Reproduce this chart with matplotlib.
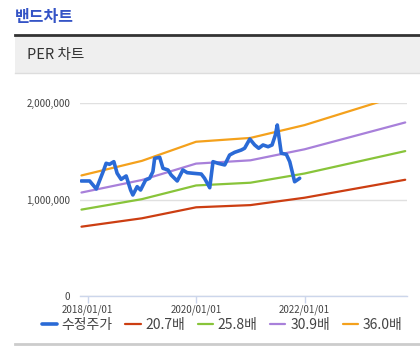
import matplotlib
matplotlib.use("Agg")
import matplotlib.pyplot as plt
from matplotlib.lines import Line2D
from matplotlib.patches import Rectangle
import pandas as pd

plt.rcParams['font.family'] = ['Noto Sans CJK KR', 'DejaVu Sans']

title = "밴드차트"
subtitle = "PER 차트"

price_dates = ["2017-11-18", "2018-01-14", "2018-02-28", "2018-04-19", "2018-05-05", "2018-05-28",
               "2018-06-26", "2018-07-18", "2018-08-14", "2018-09-17", "2018-10-17", "2018-11-01",
               "2018-11-30", "2018-12-23", "2019-01-26", "2019-02-22", "2019-03-16", "2019-03-28",
               "2019-05-01", "2019-05-23", "2019-06-26", "2019-07-17", "2019-08-27", "2019-10-04",
               "2019-11-02", "2019-12-10", "2020-02-05", "2020-02-27", "2020-04-02", "2020-04-24",
               "2020-05-28", "2020-07-12", "2020-08-14", "2020-09-17", "2020-11-01", "2020-11-23",
               "2020-12-28", "2021-01-30", "2021-02-26", "2021-03-27", "2021-04-30", "2021-05-27",
               "2021-06-18", "2021-07-01", "2021-07-28", "2021-08-31", "2021-09-23", "2021-10-26",
               "2021-11-29"]
price_values = [1192000, 1192000, 1109000, 1306000, 1375000, 1365000,
                1392000, 1272000, 1209000, 1244000, 1098000, 1047000,
                1133000, 1098000, 1202000, 1220000, 1288000, 1427000,
                1437000, 1323000, 1306000, 1254000, 1192000, 1306000,
                1278000, 1272000, 1264000, 1220000, 1122000, 1392000,
                1375000, 1358000, 1461000, 1489000, 1513000, 1531000,
                1627000, 1565000, 1531000, 1565000, 1547000, 1565000,
                1668000, 1772000, 1479000, 1468000, 1392000, 1184000,
                1220000]

band_dates = ["2017-11-20", "2019-01-01", "2020-01-01", "2021-01-01", "2022-01-01", "2023-11-10"]
band_207 = [718300, 805200, 919100, 941900, 1018400, 1204700]
band_258 = [895300, 1003600, 1145500, 1173900, 1269400, 1501600]
band_309 = [1072200, 1202000, 1372000, 1406000, 1520300, 1798400]
band_360 = [1249200, 1400400, 1598400, 1638000, 1771200, 2095200]

series_labels = ["수정주가", "20.7배", "25.8배", "30.9배", "36.0배"]
colors = ["#2a6ad6", "#cc3e12", "#88c43a", "#a880da", "#f4a11c"]

y_ticks = [0, 1000000, 2000000]
y_labels = ["0", "1,000,000", "2,000,000"]
x_ticks = ["2018-01-01", "2020-01-01", "2022-01-01"]
x_labels = ["2018/01/01", "2020/01/01", "2022/01/01"]

W, H = 420, 353
fig = plt.figure(figsize=(W / 100, H / 100), dpi=100)
fig.patch.set_facecolor("white")

# header
fig.text(15 / W, 1 - 17 / H, title, color="#3554c6", fontsize=11.5, fontweight="bold",
         va="center", ha="left")
fig.add_artist(Rectangle((15 / W, 1 - 73 / H), 1, 38 / H, transform=fig.transFigure,
                         facecolor="#efefef", edgecolor="none"))
fig.add_artist(Line2D([15 / W, 1], [1 - 34.5 / H] * 2, transform=fig.transFigure,
                      color="#333333", linewidth=2))
fig.add_artist(Line2D([15 / W, 1], [1 - 72.5 / H] * 2, transform=fig.transFigure,
                      color="#dddddd", linewidth=1))
fig.text(27 / W, 1 - 55 / H, subtitle, color="#333333", fontsize=10.5, va="center", ha="left")
fig.add_artist(Line2D([15 / W, 1], [1 - 343.5 / H] * 2, transform=fig.transFigure,
                      color="#cccccc", linewidth=2))

left, right, top, bottom = 80, 406.7, 103, 296
ax = fig.add_axes([left / W, 1 - bottom / H, (right - left) / W, (bottom - top) / H])
ax.set_facecolor("none")

pd_price = pd.to_datetime(price_dates)
pd_band = pd.to_datetime(band_dates)
bands = [band_207, band_258, band_309, band_360]
handles = []
for i, b in enumerate(bands):
    h, = ax.plot(pd_band, b, color=colors[i + 1], linewidth=1.6, solid_capstyle="round", zorder=2)
    handles.append(h)
hp, = ax.plot(pd_price, price_values, color=colors[0], linewidth=2.6, solid_joinstyle="round",
              solid_capstyle="round", zorder=3)
handles = [hp] + handles

ax.set_ylim(0, 2000000)
ax.set_xlim(pd.Timestamp("2017-11-10"), pd.Timestamp("2023-11-20"))
ax.set_yticks(y_ticks)
ax.set_yticklabels(y_labels)
ax.set_xticks(pd.to_datetime(x_ticks))
ax.set_xticklabels(x_labels)
for s in ["left", "right", "top"]:
    ax.spines[s].set_visible(False)
ax.spines["bottom"].set_color("#ccd6eb")
ax.spines["bottom"].set_linewidth(1)
ax.grid(axis="y", color="#e0e0e0", linewidth=1)
ax.set_axisbelow(True)
ax.tick_params(axis="y", length=0, pad=7, labelsize=7, labelcolor="#444444")
ax.tick_params(axis="x", length=5, width=1, color="#ccd6eb", pad=1, labelsize=7,
               labelcolor="#444444")

fig.legend(handles, series_labels, loc="center", bbox_to_anchor=(222 / W, 1 - 325 / H),
           ncol=5, frameon=False, fontsize=10, handlelength=1.1, handletextpad=0.35,
           columnspacing=0.9, labelcolor="#444444", borderaxespad=0, borderpad=0)

fig.savefig("out.png", dpi=100, facecolor="white")
